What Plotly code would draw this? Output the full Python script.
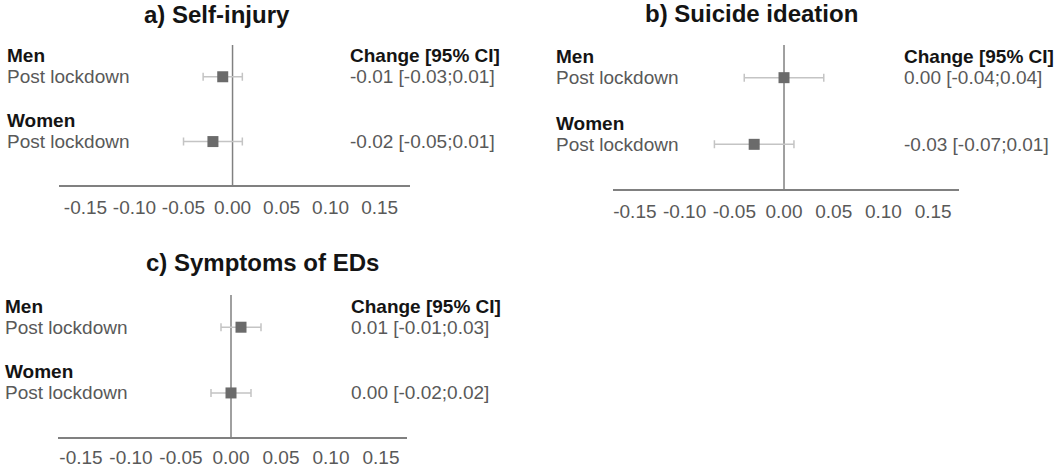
import plotly.graph_objects as go

W, H = 1057, 468

# data
panel_titles = ["a) Self-injury", "b) Suicide ideation", "c) Symptoms of EDs"]
groups = ["Men", "Women"]
row_label = "Post lockdown"
est_header = "Change [95% CI]"

est_a = [-0.01, -0.02]
lo_a = [-0.03, -0.05]
hi_a = [0.01, 0.01]

est_b = [0.00, -0.03]
lo_b = [-0.04, -0.07]
hi_b = [0.04, 0.01]

est_c = [0.01, 0.00]
lo_c = [-0.01, -0.02]
hi_c = [0.03, 0.02]

tick_vals = [-0.15, -0.10, -0.05, 0.00, 0.05, 0.10, 0.15]

FONT = "Liberation Sans, Arial, sans-serif"
GREY_TXT = "#595959"
BLACK_TXT = "#141414"

# layout of each panel in pixels
panels = [
    dict(title=panel_titles[0], est=est_a, lo=lo_a, hi=hi_a,
         x0=59, x1=410, top=45, bot=185, xr=[-0.177, 0.181],
         lab_x=5, val_x=348, tx=217, ty=15, standoff=4),
    dict(title=panel_titles[1], est=est_b, lo=lo_b, hi=hi_b,
         x0=613, x1=959, top=45, bot=189, xr=[-0.172, 0.176],
         lab_x=554, val_x=902, tx=751, ty=13, standoff=4),
    dict(title=panel_titles[2], est=est_c, lo=lo_c, hi=hi_c,
         x0=58, x1=407, top=295, bot=437, xr=[-0.173, 0.176],
         lab_x=3, val_x=349, tx=262, ty=262, standoff=2),
]

rows_y = [2, 1]  # Men on top, Women below

fig = go.Figure()
annotations = []
shapes = []

for i, p in enumerate(panels):
    n = "" if i == 0 else str(i + 1)
    xref, yref = "x" + n, "y" + n

    fig.add_trace(go.Scatter(
        x=p["est"], y=rows_y, mode="markers",
        marker=dict(symbol="square", size=11, color="#6b6b6b"),
        error_x=dict(type="data", symmetric=False,
                     array=[h - e for h, e in zip(p["hi"], p["est"])],
                     arrayminus=[e - l for e, l in zip(p["est"], p["lo"])],
                     color="#c4c4c4", thickness=1.5, width=4),
        xaxis=xref, yaxis=yref, showlegend=False, hoverinfo="skip",
    ))

    fig.update_layout(**{
        "xaxis" + n: dict(
            domain=[p["x0"] / W, p["x1"] / W], range=p["xr"], anchor=yref,
            showline=True, linecolor="#808080", linewidth=1.5,
            showgrid=False, zeroline=False, ticks="", ticklabelstandoff=p["standoff"],
            tickvals=tick_vals, ticktext=[f"{t:.2f}" for t in tick_vals],
            tickfont=dict(family=FONT, size=19, color=GREY_TXT),
            fixedrange=True, automargin=False,
        ),
        "yaxis" + n: dict(
            domain=[1 - p["bot"] / H, 1 - p["top"] / H], range=[0.33, 2.49],
            anchor=xref, visible=False, showgrid=False, zeroline=False,
            fixedrange=True,
        ),
    })

    shapes.append(dict(type="line", xref=xref, yref=yref + " domain",
                       x0=0, x1=0, y0=0, y1=1, layer="below",
                       line=dict(color="#808080", width=1.5)))

    annotations.append(dict(text="<b>" + p["title"] + "</b>", xref="paper", yref="paper",
                            x=p["tx"] / W, y=1 - p["ty"] / H, xanchor="center", yanchor="middle",
                            showarrow=False, font=dict(family=FONT, size=24, color=BLACK_TXT)))

    annotations.append(dict(text="<b>" + est_header + "</b>", xref="paper", yref=yref,
                            x=p["val_x"] / W, y=rows_y[0], yshift=21,
                            xanchor="left", yanchor="middle", showarrow=False,
                            font=dict(family=FONT, size=19, color=BLACK_TXT)))

    for g, ry, e, l, h in zip(groups, rows_y, p["est"], p["lo"], p["hi"]):
        annotations.append(dict(text="<b>" + g + "</b>", xref="paper", yref=yref,
                                x=p["lab_x"] / W, y=ry, yshift=21,
                                xanchor="left", yanchor="middle", showarrow=False,
                                font=dict(family=FONT, size=19, color=BLACK_TXT)))
        annotations.append(dict(text=row_label, xref="paper", yref=yref,
                                x=p["lab_x"] / W, y=ry,
                                xanchor="left", yanchor="middle", showarrow=False,
                                font=dict(family=FONT, size=19, color=GREY_TXT)))
        annotations.append(dict(text=f"{e:.2f} [{l:.2f};{h:.2f}]", xref="paper", yref=yref,
                                x=p["val_x"] / W, y=ry,
                                xanchor="left", yanchor="middle", showarrow=False,
                                font=dict(family=FONT, size=19, color=GREY_TXT)))

fig.update_layout(
    width=W, height=H,
    margin=dict(l=0, r=0, t=0, b=0),
    paper_bgcolor="white", plot_bgcolor="white",
    annotations=annotations, shapes=shapes,
)

# the page body has a default 8px margin; drop it so the figure fills the window
fig.write_html("out.html", config={"displayModeBar": False},
               post_script="document.body.style.margin='0';")
